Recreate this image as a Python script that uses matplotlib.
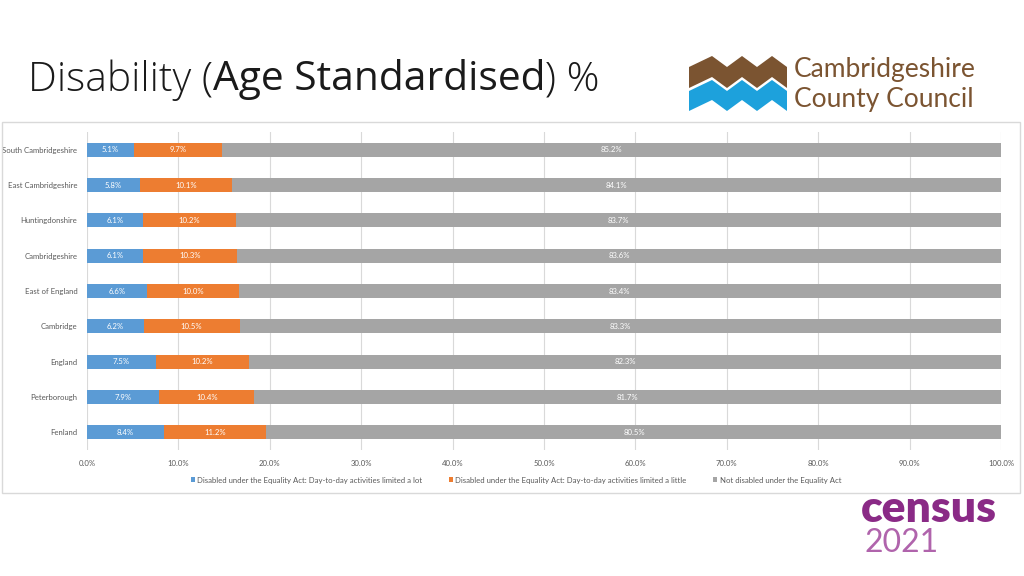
import matplotlib
matplotlib.use("Agg")
import matplotlib.pyplot as plt
from matplotlib.patches import Rectangle, Polygon
import numpy as np

categories = ["South Cambridgeshire", "East Cambridgeshire", "Huntingdonshire",
              "Cambridgeshire", "East of England", "Cambridge", "England",
              "Peterborough", "Fenland"]
limited_lot = [5.1, 5.8, 6.1, 6.1, 6.6, 6.2, 7.5, 7.9, 8.4]
limited_little = [9.7, 10.1, 10.2, 10.3, 10.0, 10.5, 10.2, 10.4, 11.2]
not_disabled = [85.2, 84.1, 83.7, 83.6, 83.4, 83.3, 82.3, 81.7, 80.5]
series_names = ["Disabled under the Equality Act: Day-to-day activities limited a lot",
                "Disabled under the Equality Act: Day-to-day activities limited a little",
                "Not disabled under the Equality Act"]
colors = ["#5B9BD5", "#ED7D31", "#A5A5A5"]
xticks = [0, 10, 20, 30, 40, 50, 60, 70, 80, 90, 100]

W, H = 1024, 576
fig = plt.figure(figsize=(W / 100, H / 100), dpi=100)
fig.patch.set_facecolor("white")
CF = "Lato"
FS = 5.6

def fx(x):
    return x / W

def fy(y):
    return 1 - y / H

# chart panel border
fig.patches.append(Rectangle((fx(2), fy(493)), fx(1020) - fx(2), fy(122) - fy(493),
                             transform=fig.transFigure, fill=False,
                             edgecolor="#D9D9D9", linewidth=1.0))

ax = fig.add_axes([fx(87), fy(450), fx(1001) - fx(87), fy(132) - fy(450)])
y = np.arange(len(categories))
series = [limited_lot, limited_little, not_disabled]
left = np.zeros(len(categories))
handles = []
for vals, c, name in zip(series, colors, series_names):
    vals = np.array(vals)
    b = ax.barh(y, vals, left=left, height=0.4, color=c, label=name, zorder=3)
    handles.append(b)
    for yi, l, v in zip(y, left, vals):
        ax.text(l + v / 2, yi, f"{v:.1f}%", ha="center", va="center",
                fontsize=FS, family=CF, color="white", zorder=4)
    left = left + vals

ax.set_ylim(len(categories) - 0.5, -0.5)
ax.set_xlim(0, 100)
ax.set_xticks(xticks)
ax.set_xticklabels([f"{t:.1f}%" for t in xticks], family=CF)
ax.set_yticks(y)
ax.set_yticklabels(categories, family=CF)
ax.tick_params(axis="both", length=0, labelsize=FS, labelcolor="#595959")
ax.tick_params(axis="x", pad=7)
ax.tick_params(axis="y", pad=7)
ax.grid(axis="x", color="#D9D9D9", linewidth=0.8, zorder=0)
for s in ax.spines.values():
    s.set_visible(False)

leg = fig.legend(handles=handles, labels=series_names,
                 loc="center", bbox_to_anchor=(fx(516), fy(480)),
                 ncol=3, frameon=False, prop={"family": CF, "size": FS},
                 handlelength=0.55, handleheight=0.55, handletextpad=0.3,
                 columnspacing=3.4, labelcolor="#595959")

# Title
fig.canvas.draw()
r = fig.canvas.get_renderer()
parts = [("Disability (", "light"), ("Age Standardised", "normal"), (") %", "light")]
xpos = fx(28)
for txt, wt in parts:
    t = fig.text(xpos, fy(80), txt, fontsize=29.3, family="Open Sans", weight=wt,
                 color="#1a1a1a", va="center", ha="left")
    bb = t.get_window_extent(renderer=r)
    xpos += bb.width / W

# Cambridgeshire logo
zx = [689, 712, 727, 742, 757, 772, 787]
top = [67, 56, 67, 56, 67, 56, 67]
brown_bot = [t + 21 for t in top]
blue_top = [t + 24 for t in top]
blue_bot = [t + 44 for t in top]
def zig(x, t, b, color):
    pts = [(fx(a), fy(c)) for a, c in zip(x, t)] + [(fx(a), fy(c)) for a, c in zip(x[::-1], b[::-1])]
    fig.patches.append(Polygon(pts, closed=True, transform=fig.transFigure,
                               facecolor=color, edgecolor="none"))
zig(zx, top, brown_bot, "#7B5431")
zig(zx, blue_top, blue_bot, "#1DA1DC")
fig.text(fx(794), fy(70), "Cambridgeshire", fontsize=19, family="Lato",
         color="#7B5431", va="center", ha="left")
fig.text(fx(794), fy(99), "County Council", fontsize=19, family="Lato",
         color="#7B5431", va="center", ha="left")

# Census logo
fig.text(fx(861), fy(522), "census", fontsize=32, family="Lato", weight="heavy",
         color="#8A2A86", va="baseline", ha="left")
fig.text(fx(865), fy(552), "2021", fontsize=23, family="Lato", weight="normal",
         color="#B064AC", va="baseline", ha="left")

fig.savefig("out.png", dpi=100, facecolor="white")
